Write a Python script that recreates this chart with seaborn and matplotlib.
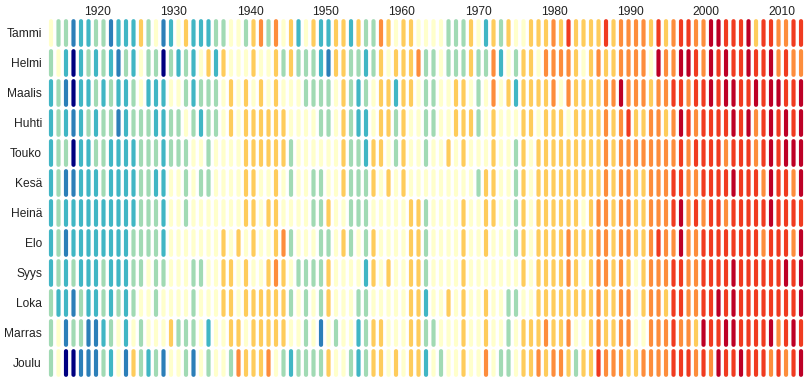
import matplotlib
matplotlib.use("Agg")
import matplotlib.pyplot as plt
from matplotlib.path import Path
import numpy as np
import pandas as pd
import seaborn as sns

# warming-stripe style levels: 0 = coldest ... 8 = warmest
months = ["Tammi", "Helmi", "Maalis", "Huhti", "Touko", "Kesä",
          "Heinä", "Elo", "Syys", "Loka", "Marras", "Joulu"]
years = list(range(1914, 2015))
label_years = list(range(1920, 2011, 10))

tammi = [4,3,3,1,2,2,3,3,1,2,2,2,5,3,4,1,2,4,5,2,2,2,3,3,4,4,3,5,6,
         3,6,4,5,2,4,5,2,2,5,5,2,5,3,3,6,5,4,5,5,4,4,4,4,3,3,3,5,4,2,5,3,5,4,4,5,
         5,5,6,5,7,5,5,5,5,7,5,6,6,6,6,5,7,5,6,7,7,6,6,8,8,7,7,7,8,5,7,7,6,6,7,7]
helmi = [3,4,2,0,2,3,2,3,2,1,3,2,4,3,3,0,3,2,3,2,4,5,2,5,4,4,4,5,4,
         4,5,3,5,3,3,3,2,1,5,5,3,3,2,3,5,4,5,5,5,6,3,3,4,3,3,3,5,3,3,6,2,4,3,5,5,
         4,6,6,6,6,5,4,5,6,5,5,6,6,6,6,4,8,6,6,8,8,7,6,8,7,8,7,7,8,7,7,8,6,7,6,6]
maalis = [2,3,1,0,2,2,3,2,3,2,2,3,4,2,2,2,4,4,3,2,3,3,3,4,5,4,5,4,5,
          4,5,4,4,4,3,3,3,3,4,5,3,2,3,4,5,5,2,5,5,4,3,3,4,4,5,5,4,3,4,6,4,5,2,5,5,
          5,5,6,4,6,5,5,5,5,6,6,8,6,6,6,5,6,6,7,7,6,7,7,8,7,8,8,7,7,8,7,8,8,7,7,8]
huhti = [2,3,2,1,2,3,2,3,3,1,2,3,3,3,2,2,3,3,4,3,2,3,3,4,5,4,5,5,5,
         5,5,5,4,4,4,4,3,3,4,5,3,2,2,4,5,5,3,5,4,4,3,3,4,4,5,5,5,3,4,5,4,4,4,5,5,
         4,5,5,5,4,5,5,5,5,6,5,6,7,5,5,6,6,5,6,8,7,6,7,7,7,7,8,7,8,6,7,8,7,8,7,8]
touko = [2,3,3,0,2,2,3,3,2,2,2,2,3,3,3,2,3,3,3,4,4,3,4,4,4,4,5,5,5,
         5,5,5,3,4,4,4,4,4,4,5,3,3,2,5,5,4,3,5,4,4,3,4,4,5,4,5,4,4,4,5,4,4,3,5,4,
         5,5,5,5,5,5,5,5,5,6,5,6,6,6,6,6,6,6,6,7,6,7,7,7,7,6,7,7,7,6,7,8,7,8,8,8]
kesa = [2,3,1,1,2,2,2,3,2,2,2,2,3,3,2,2,4,4,3,4,3,3,4,4,4,4,5,5,4,
        4,5,4,3,4,4,3,3,4,4,5,3,3,3,5,4,5,4,5,4,4,4,4,4,4,4,4,4,3,5,5,4,4,3,5,4,
        5,5,5,5,5,5,5,5,5,6,5,6,6,5,5,6,6,6,7,7,6,6,7,7,7,7,8,7,7,7,6,8,7,7,6,8]
heina = [2,3,2,2,2,2,2,2,2,2,2,2,3,3,3,2,4,4,3,4,4,4,4,4,4,4,5,5,4,
         5,5,4,4,4,4,3,3,5,4,4,3,3,3,4,4,4,4,4,5,5,3,4,4,4,4,5,4,4,5,5,4,4,3,5,4,
         5,5,5,5,5,5,4,5,6,6,5,6,6,5,5,6,6,6,7,8,6,7,6,7,7,6,7,7,7,7,7,8,7,7,7,7]
elo = [2,3,1,2,2,2,2,2,2,2,2,3,3,3,3,2,4,4,4,4,4,4,4,5,4,5,4,5,4,
       4,5,6,3,4,4,4,3,3,4,5,3,4,3,5,4,4,4,4,5,5,3,4,4,4,4,5,4,4,5,4,4,4,3,5,4,
       5,5,5,5,6,5,5,5,6,6,5,6,6,5,5,6,7,6,6,8,6,6,7,7,7,7,7,7,7,7,6,7,7,7,6,8]
syys = [2,3,2,3,2,2,2,3,2,2,2,3,3,4,3,3,4,4,4,3,3,4,4,5,5,4,5,4,4,
        5,6,5,4,3,3,3,3,5,4,4,4,4,2,5,4,5,4,4,5,5,3,4,4,4,4,5,4,4,4,4,4,4,4,5,4,
        5,5,5,5,6,5,4,5,6,6,5,6,5,4,5,6,6,6,7,7,6,6,7,7,7,7,8,7,7,7,7,7,7,8,7,8]
loka = [3,2,2,1,3,2,2,3,2,3,2,3,4,4,3,4,4,4,4,3,4,4,4,5,5,4,5,5,5,
        5,5,5,3,4,3,4,3,5,4,4,4,3,3,4,4,4,4,4,5,5,2,4,4,5,4,5,4,4,5,4,4,3,3,4,4,
        5,5,5,5,5,5,5,5,6,5,5,6,6,4,5,6,6,5,7,7,6,6,7,7,8,7,8,7,7,7,7,7,7,7,7,8]
marras = [3,4,1,3,3,1,1,2,3,4,2,4,3,4,4,4,5,3,3,3,4,2,4,4,5,5,4,5,5,
          5,5,5,4,4,3,4,1,4,3,4,4,2,3,5,5,4,4,4,5,5,3,3,4,4,4,5,4,4,5,4,4,3,4,5,5,
          5,6,5,5,6,4,4,5,6,5,5,6,6,4,4,6,6,6,7,6,6,5,8,7,7,8,8,7,7,7,7,8,6,7,8,7]
joulu = [3,4,0,0,1,1,1,3,2,4,1,5,3,2,3,1,4,4,3,1,4,3,4,4,3,6,5,5,5,
         6,4,3,2,3,3,3,3,5,4,4,3,2,3,5,5,4,5,4,5,5,2,4,3,4,4,5,4,4,6,4,3,3,4,5,5,
         6,5,6,6,5,3,5,5,7,6,6,6,5,5,6,6,6,6,7,7,7,6,7,6,8,7,7,8,7,7,7,6,7,6,7,8]

colors = ["#000080", "#2c7fb8", "#41b6c4", "#a1dab4", "#ffffcc",
          "#fecc5c", "#fd8d3c", "#f03b20", "#bd0026"]

rows = [tammi, helmi, maalis, huhti, touko, kesa, heina, elo, syys, loka, marras, joulu]
df = pd.DataFrame(rows, index=months, columns=years)
df = df.rename_axis("month").reset_index().melt(id_vars="month", var_name="year", value_name="level")
df["year"] = df["year"].astype(int)

# pill shaped marker, tall and thin
t = np.linspace(0, np.pi, 12)
w = 0.15
cap_x = w * np.cos(t)
cap_y = (1 - w) + w * np.sin(t)
verts = np.column_stack([np.r_[cap_x, -cap_x], np.r_[cap_y, -cap_y]])
pill = Path(np.vstack([verts, verts[0]]), closed=True)

fig = plt.figure(figsize=(8.08, 3.86), dpi=100)
ax = fig.add_axes([42 / 808, 0, 766 / 808, 368 / 386])

sns.scatterplot(data=df, x="year", y="month", hue="level", palette=dict(enumerate(colors)),
                marker=pill, s=398, linewidth=0, legend=False, ax=ax)

ax.set_xlim(1912.8, 2014.93)
ax.set_ylim(11.767, -0.5)
ax.set_xlabel("")
ax.set_ylabel("")
for s in ax.spines.values():
    s.set_visible(False)

# year labels run slightly wider than the bars
ax.xaxis.tick_top()
ax.set_xticks([1920.27 + (y - 1920) * 1.0133 for y in label_years])
ax.set_xticklabels(label_years)
ax.tick_params(axis="both", length=0, pad=0, labelsize=8.64, labelcolor="#222222")
for lab in ax.get_xticklabels() + ax.get_yticklabels():
    lab.set_family("Liberation Sans")

fig.savefig("out.png", dpi=100)
